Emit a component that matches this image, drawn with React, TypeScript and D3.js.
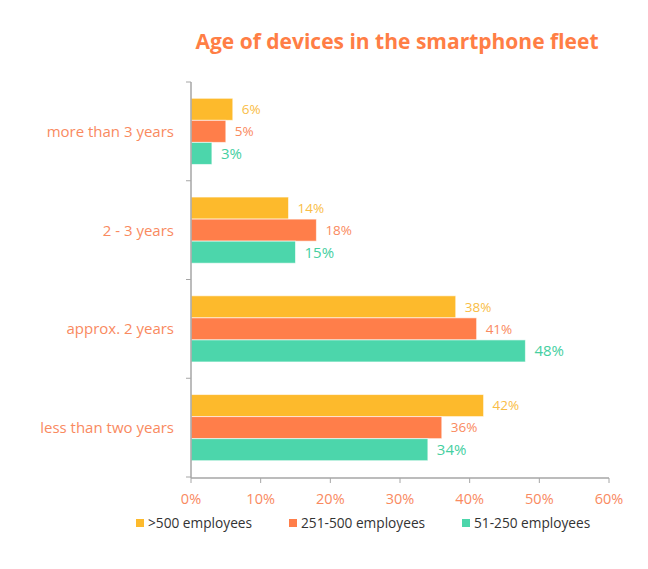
import React from "react";
import * as d3 from "d3";

const categories = ["more than 3 years", "2 - 3 years", "approx. 2 years", "less than two years"];
const seriesNames = [">500 employees", "251-500 employees", "51-250 employees"];
const over500 = [6, 14, 38, 42];
const mid251 = [5, 18, 41, 36];
const small51 = [3, 15, 48, 34];
const xTicks = [0, 10, 20, 30, 40, 50, 60];

const barColors = ["#FDBA2C", "#FF7E4A", "#4CD6AB"];
const labelColors = ["#F9BD45", "#FA8A60", "#45CFA1"];
const labelSizes = [13.5, 13.5, 15];
const catColor = "#F98A5F";
const font = "'Open Sans', 'Liberation Sans', sans-serif";

export default function App() {
  const W = 648, H = 569;
  const x = d3.scaleLinear().domain([0, 60]).range([191, 609]);
  const y = d3.scaleBand<string>().domain(categories).range([82, 477]).paddingInner(0.33).paddingOuter(0.165);
  const inner = d3.scaleBand<string>().domain(seriesNames).range([0, y.bandwidth()]);
  const series = [over500, mid251, small51];
  const boundaries = d3.range(categories.length + 1).map((i) => 82 + i * ((477 - 82) / categories.length));

  const legendX = [136, 289, 462];

  return (
    <svg width={W} height={H} style={{ position: "absolute", left: 0, top: 0, background: "#fff" }}>
      <text x={397} y={49} textAnchor="middle" fontFamily={font} fontWeight="bold" fontSize={21} fill="#FF7E45">
        Age of devices in the smartphone fleet
      </text>
      {categories.map((c, ci) =>
        series.map((s, si) => {
          const yy = (y(c) as number) + (inner(seriesNames[si]) as number);
          const h = inner.bandwidth();
          return (
            <g key={c + si}>
              <rect x={x(0)} y={yy} width={x(s[ci]) - x(0)} height={h} fill={barColors[si]} stroke="#fff" strokeOpacity={0.6} strokeWidth={1} />
              <text x={x(s[ci]) + 9} y={yy + h / 2} dy="0.36em" fontFamily={font} fontSize={labelSizes[si]} fill={labelColors[si]}>
                {s[ci]}%
              </text>
            </g>
          );
        })
      )}
      <line x1={x(0)} x2={x(0)} y1={82} y2={478} stroke="#A6A6A6" strokeWidth={1.5} />
      {boundaries.map((b, i) => (
        <line key={"yt" + i} x1={x(0) - 5} x2={x(0)} y1={b} y2={b} stroke="#A6A6A6" strokeWidth={1} />
      ))}
      {categories.map((c) => (
        <text key={c} x={174} y={(y(c) as number) + y.bandwidth() / 2} dy="0.36em" textAnchor="end" fontFamily={font} fontSize={15} fill={catColor}>
          {c}
        </text>
      ))}
      <line x1={x(0)} x2={x(60)} y1={478} y2={478} stroke="#A6A6A6" strokeWidth={1.5} />
      {xTicks.map((t) => (
        <g key={"xt" + t}>
          <line x1={x(t)} x2={x(t)} y1={478} y2={483} stroke="#A6A6A6" strokeWidth={1} />
          <text x={x(t)} y={499} dy="0.36em" textAnchor="middle" fontFamily={font} fontSize={14.5} fill={catColor}>
            {t}%
          </text>
        </g>
      ))}
      {seriesNames.map((n, i) => (
        <g key={n}>
          <rect x={legendX[i]} y={519} width={8} height={8} fill={barColors[i]} />
          <text x={legendX[i] + 12} y={523} dy="0.36em" fontFamily={font} fontSize={13.7} fill="#333">
            {n}
          </text>
        </g>
      ))}
    </svg>
  );
}
